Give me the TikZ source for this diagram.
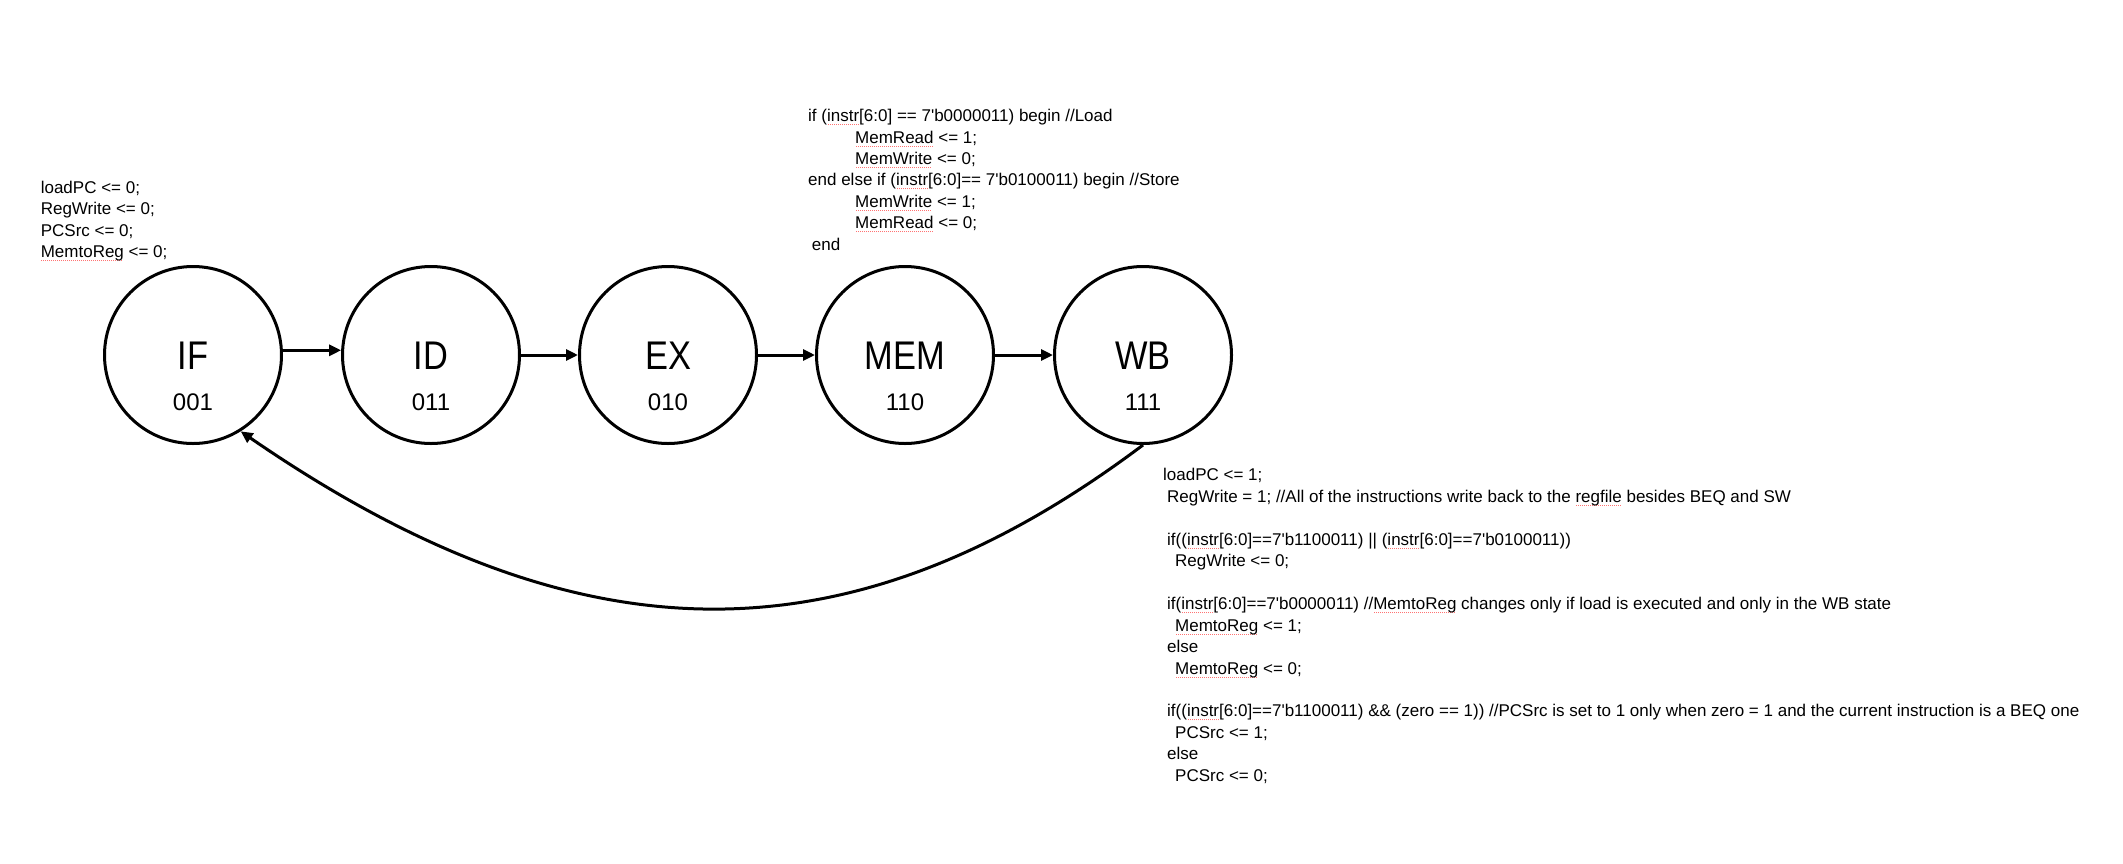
\documentclass[tikz,border=0pt]{standalone}
\usepackage{fontspec}
\setmainfont{Liberation Sans}
\newfontfamily\statefont{Liberation Sans}[FakeStretch=0.86]
\usetikzlibrary{arrows.meta}
\newsavebox\sqbox
\newcommand\sq[1]{\sbox\sqbox{#1}\rlap{\color{red!55}\raisebox{-3.5pt}{\hbox to \wd\sqbox{\leaders\hbox to 2pt{\hss\rule{1pt}{1pt}\hss}\hfill}}}\usebox\sqbox}
\newcommand\q{\textquotesingle}
\begin{document}
\begin{tikzpicture}[x=1pt,y=-1pt,
  state/.style={circle,draw,line width=3pt,minimum size=177pt,inner sep=0pt},
  sname/.style={anchor=base,inner sep=0pt,font=\statefont\fontsize{40}{44}\selectfont},
  scode/.style={anchor=base,inner sep=0pt,font=\fontsize{24}{28}\selectfont},
  code/.style={anchor=base west,inner sep=0pt,font=\fontsize{17}{20}\selectfont},
  flow/.style={line width=3pt,-{Triangle[length=12pt,width=11pt]}}]
\useasboundingbox (0,0) rectangle (2123,863);
% states
\node[state] (IF)  at (193,355) {};
\node[state] (ID)  at (431,355) {};
\node[state] (EX)  at (668,355) {};
\node[state] (MEM) at (905,355) {};
\node[state] (WB)  at (1143,355) {};
\node[sname] (IFn)  at (193,369) {IF};
\node[sname] (IDn)  at (431,369) {ID};
\node[sname] (EXn)  at (668,369) {EX};
\node[sname] (MEMn) at (905,369) {MEM};
\node[sname] (WBn)  at (1143,369) {WB};
\node[scode] (IFc)  at (193,410) {001};
\node[scode] (IDc)  at (431,410) {011};
\node[scode] (EXc)  at (668,410) {010};
\node[scode] (MEMc) at (905,410) {110};
\node[scode] (WBc)  at (1143,410) {111};
% transitions
\draw[flow] (IF.3) -- (ID.177);
\draw[flow] (ID) -- (EX);
\draw[flow] (EX) -- (MEM);
\draw[flow] (MEM) -- (WB);
\draw[flow] (WB.south) .. controls (850,665) and (580,665) .. (IF.-58);
% IF text
\node[code] (a1) at (40.6,193) {loadPC <= 0;};
\node[code] (a2) at (40.6,214.5) {RegWrite <= 0;};
\node[code] (a3) at (40.6,236) {PCSrc <= 0;};
\node[code] (a4) at (40.6,257.5) {\sq{MemtoReg} <= 0;};
% MEM text
\node[code] (m1) at (808,121.7) {if (\sq{instr}[6:0] == 7\q b0000011) begin //Load};
\node[code] (m2) at (855,143.1) {\sq{MemRead} <= 1;};
\node[code] (m3) at (855,164.5) {\sq{MemWrite} <= 0;};
\node[code] (m4) at (808,185.9) {end else if (\sq{instr}[6:0]== 7\q b0100011) begin //Store};
\node[code] (m5) at (855,207.3) {\sq{MemWrite} <= 1;};
\node[code] (m6) at (855,228.7) {\sq{MemRead} <= 0;};
\node[code] (m7) at (811.7,250.1) {end};
% WB text
\node[code] (w1) at (1163,480.7) {loadPC <= 1;};
\node[code] (w2) at (1167,502.2) {RegWrite = 1; //All of the instructions write back to the \sq{regfile} besides BEQ and SW};
\node[code] (w3) at (1167,545.1) {if((\sq{instr}[6:0]==7\q b1100011) || (\sq{instr}[6:0]==7\q b0100011))};
\node[code] (w4) at (1175,566.6) {RegWrite <= 0;};
\node[code] (w5) at (1167,609.5) {if(\sq{instr}[6:0]==7\q b0000011) //\sq{MemtoReg} changes only if load is executed and only in the WB state};
\node[code] (w6) at (1175,631) {\sq{MemtoReg} <= 1;};
\node[code] (w7) at (1167,652.5) {else};
\node[code] (w8) at (1175,674) {\sq{MemtoReg} <= 0;};
\node[code] (w9) at (1167,716.9) {if((\sq{instr}[6:0]==7\q b1100011) \&\& (zero == 1)) //PCSrc is set to 1 only when zero = 1 and the current instruction is a BEQ one};
\node[code] (w10) at (1175,738.4) {PCSrc <= 1;};
\node[code] (w11) at (1167,759.8) {else};
\node[code] (w12) at (1175,781.3) {PCSrc <= 0;};
\end{tikzpicture}
\end{document}
